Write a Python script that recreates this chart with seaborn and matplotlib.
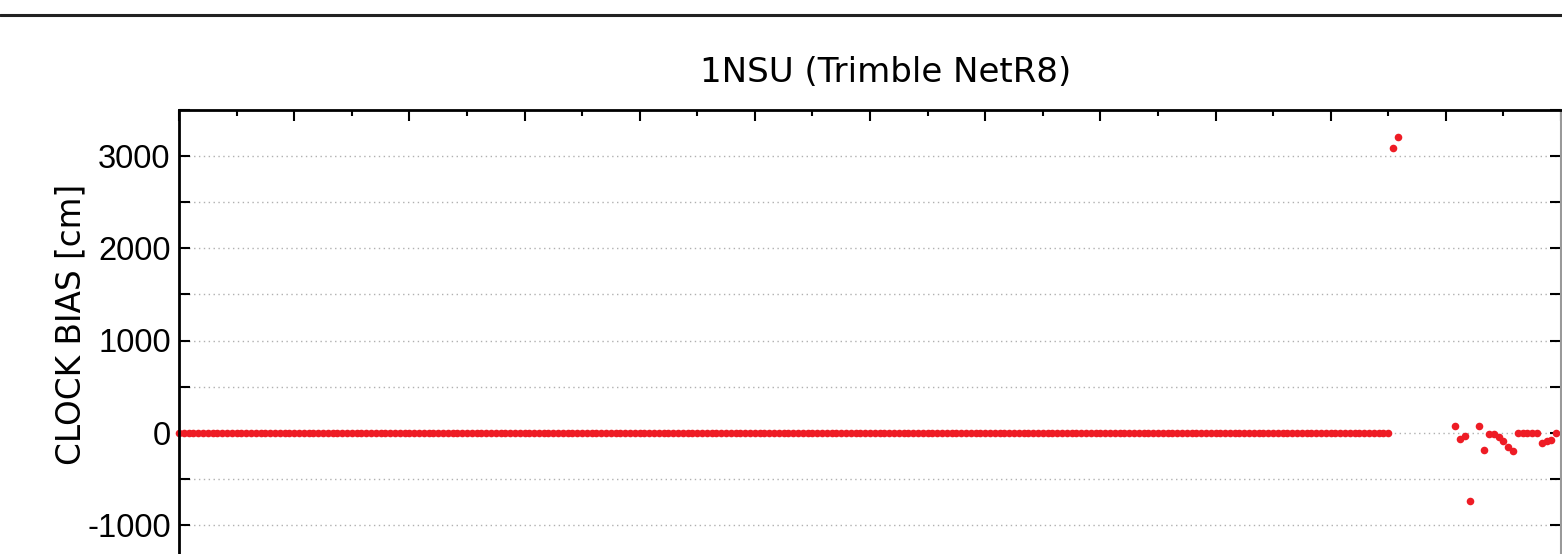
import numpy as np
import pandas as pd
import matplotlib
matplotlib.use("Agg")
import matplotlib.pyplot as plt
from matplotlib.lines import Line2D
from matplotlib.ticker import MultipleLocator, FuncFormatter
import seaborn as sns

# ---- data (5-minute epochs over one day, clock bias in cm) ----
epoch_minutes = 5
n_epochs = 288
nan = np.nan
bias_flat = [0.0] * 253                      # epochs 0..252: flat at 0
bias_jump = [3090.0, 3210.0]                 # epochs 253, 254
bias_gap = [nan] * 11                        # epochs 255..265: no solution
bias_tail = [73.0, -68.0, -40.0, -741.0, nan, 73.0, -184.0, -11.0, -18.0,
             -51.0, -87.0, -152.0, -203.0, -7.0, -7.0, 0.0, -7.0, -7.0,
             -112.0, -94.0, -83.0, 0.0]       # epochs 266..287
bias_cm = bias_flat + bias_jump + bias_gap + bias_tail

title = "1NSU (Trimble NetR8)"
ylabel = "CLOCK BIAS [cm]"

hours = np.arange(n_epochs) * epoch_minutes / 60.0
df = pd.DataFrame({"hour": hours, "bias": bias_cm}).dropna()

sns.set_theme(style="white")
plt.rcParams["font.family"] = ["Liberation Sans", "DejaVu Sans"]

W, H, DPI = 1562, 554, 100
fig = plt.figure(figsize=(W / DPI, H / DPI), dpi=DPI)

y_lo, y_hi = -1500, 3500
px_per_unit = 92.2 / 1000
ax_h_px = (y_hi - y_lo) * px_per_unit
ax_left, ax_right, ax_top = 179, 1561, 110
ax = fig.add_axes([ax_left / W, 1 - (ax_top + ax_h_px) / H,
                   (ax_right - ax_left) / W, ax_h_px / H])

sns.scatterplot(data=df, x="hour", y="bias", ax=ax, color="#EE1C25",
                s=30, linewidth=0, clip_on=False, zorder=2, legend=False)

ax.set_xlim(0, 24)
ax.set_ylim(y_lo, y_hi)
ax.xaxis.set_major_locator(MultipleLocator(2))
ax.xaxis.set_minor_locator(MultipleLocator(1))
ax.yaxis.set_major_locator(MultipleLocator(500))
ax.yaxis.set_major_formatter(FuncFormatter(
    lambda v, p: f"{int(round(v))}" if abs(v % 1000) < 1e-6 else ""))

ax.grid(axis="y", which="major", linestyle=(0, (1, 2.5)), color="#B0B0B0",
        linewidth=1.0, zorder=0)
ax.grid(axis="x", visible=False)
ax.set_axisbelow(True)

ax.tick_params(axis="both", which="both", direction="in", top=True,
               right=True, bottom=True, left=True, color="black")
ax.tick_params(axis="y", which="major", length=8, width=1.5, labelsize=23.5,
               pad=6, labelcolor="black")
ax.tick_params(axis="x", which="major", length=8, width=1.5, labelsize=23.5,
               labelbottom=False)
ax.tick_params(axis="x", which="minor", length=4, width=1.5)

for name, sp in ax.spines.items():
    sp.set_visible(True)
    sp.set_color("black")
    sp.set_linewidth(2)
ax.spines["right"].set_color("#999999")
ax.spines["right"].set_linewidth(1.5)

wide_font = ["DejaVu Sans"]
ax.set_xlabel("")
ax.set_ylabel(ylabel, fontsize=23.5, color="black", family=wide_font)
ax.yaxis.set_label_coords(-0.0665, (1175 - y_lo) / (y_hi - y_lo))
ax.set_title(title, fontsize=24.5, color="black", pad=20, family=wide_font,
             x=(886 - ax_left) / (ax_right - ax_left))

fig.add_artist(Line2D([0, 1], [1 - 15 / H, 1 - 15 / H],
                      transform=fig.transFigure, color="#222222",
                      linewidth=2.2))

fig.savefig("out.png", dpi=DPI, facecolor="white")
